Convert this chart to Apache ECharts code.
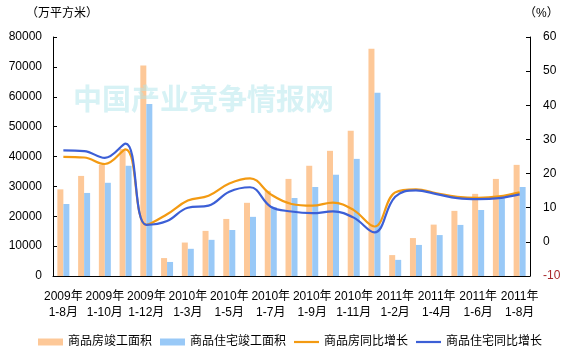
<!DOCTYPE html>
<html>
<head>
<meta charset="utf-8">
<script src="https://cdn.jsdelivr.net/npm/echarts@6/dist/echarts.min.js"></script>
<style>html,body{margin:0;padding:0;background:#fff}#c{width:573px;height:359px}</style>
</head>
<body>
<div id="c"></div>
<script>
var categories = ['2009年1-8月','2009年1-9月','2009年1-10月','2009年1-11月','2009年1-12月',
  '2010年1-2月','2010年1-3月','2010年1-4月','2010年1-5月','2010年1-6月','2010年1-7月','2010年1-8月',
  '2010年1-9月','2010年1-10月','2010年1-11月','2010年1-12月',
  '2011年1-2月','2011年1-3月','2011年1-4月','2011年1-5月','2011年1-6月','2011年1-7月','2011年1-8月'];
var houseArea = [29000,33500,37200,42500,70500,6000,11200,15100,19100,24500,28500,32500,36900,41900,48600,76100,7000,12700,17200,21800,27500,32500,37200];
var residArea = [24100,27800,31200,36900,57600,4700,9100,12100,15400,19800,23000,26100,29800,33900,39200,61300,5400,10400,13700,17100,22100,26000,29800];
var houseGrowth = [24.9,24.7,22.8,27.1,5.0,8.1,12.1,13.5,17.1,18.6,13.9,11.1,10.6,11.5,9.3,4.5,14.5,15.4,14.2,13.2,12.9,13.3,14.5];
var residGrowth = [26.8,26.6,24.6,28.8,5.0,6.1,10.0,10.6,14.7,16.0,10.3,8.9,8.4,8.9,7.1,2.8,13.2,15.1,14.0,12.8,12.5,12.8,13.9];
var leftTicks = {min:0, max:80000, interval:10000};
var rightTicks = {min:-10, max:60, interval:10};
var names = ['商品房竣工面积','商品住宅竣工面积','商品房同比增长','商品住宅同比增长'];

var font = 'Liberation Sans, Arial, "Noto Sans CJK SC", sans-serif';
var lineIcon = 'path://M0,0H25V2.2H0Z';
var chart = echarts.init(document.getElementById('c'));
chart.setOption({
  animation:false,
  textStyle:{fontFamily:font},
  grid:{left:53,right:43,top:37,bottom:83},
  graphic:[
    {type:'text',left:26,top:8,style:{text:'（万平方米）',font:'12px '+font,fill:'#000'}},
    {type:'text',left:524,top:8,style:{text:'（%）',font:'12px '+font,fill:'#000'}},
    {type:'text',left:73,top:84,z:100,style:{text:'中国产业竞争情报网',font:'bold 29px "Noto Sans CJK SC"',fill:'rgba(175,230,236,0.5)'}}
  ],
  legend:{
    left:33,top:331,itemWidth:25,itemHeight:7,itemGap:8,
    textStyle:{fontSize:12,color:'#000',fontFamily:font},
    data:[{name:names[0],icon:'rect'},{name:names[1],icon:'rect'},{name:names[2],icon:lineIcon},{name:names[3],icon:lineIcon}]
  },
  xAxis:{
    type:'category',data:categories,
    axisLine:{lineStyle:{color:'#000',width:1}},
    axisTick:{inside:true,length:4,lineStyle:{color:'#000'}},
    axisLabel:{interval:1,color:'#000',fontSize:12,lineHeight:16,margin:13,
      formatter:function(v){var i=v.indexOf('年');return v.slice(0,i+1)+'\n'+v.slice(i+1);}}
  },
  yAxis:[
    {type:'value',min:leftTicks.min,max:leftTicks.max,interval:leftTicks.interval,
     splitLine:{show:false},
     axisLine:{show:true,lineStyle:{color:'#000'}},
     axisTick:{show:true,inside:true,length:4,lineStyle:{color:'#000'}},
     axisLabel:{color:'#000',fontSize:12,margin:11,formatter:function(v){return String(v);}}},
    {type:'value',min:rightTicks.min,max:rightTicks.max,interval:rightTicks.interval,
     splitLine:{show:false},
     axisLine:{show:true,lineStyle:{color:'#000'}},
     axisTick:{show:true,inside:true,length:4,lineStyle:{color:'#000'}},
     axisLabel:{fontSize:12,margin:13,
       formatter:function(v){return v<0?'{r|'+v+'}':'{b|'+v+'}';},
       rich:{r:{color:'#a8282c',fontSize:12},b:{color:'#000',fontSize:12}}}}
  ],
  series:[
    {name:names[0],type:'bar',data:houseArea,barWidth:6,barGap:'0%',itemStyle:{color:'#fdc898'}},
    {name:names[1],type:'bar',data:residArea,barWidth:6,barGap:'0%',itemStyle:{color:'#99c9f7'}},
    {name:names[2],type:'line',yAxisIndex:1,data:houseGrowth,smooth:0.4,symbol:'none',
     lineStyle:{color:'#f39a12',width:2.2},itemStyle:{color:'#f39a12'}},
    {name:names[3],type:'line',yAxisIndex:1,data:residGrowth,smooth:0.4,symbol:'none',
     lineStyle:{color:'#3c5fd6',width:2.2},itemStyle:{color:'#3c5fd6'}}
  ]
});
</script>
</body>
</html>
